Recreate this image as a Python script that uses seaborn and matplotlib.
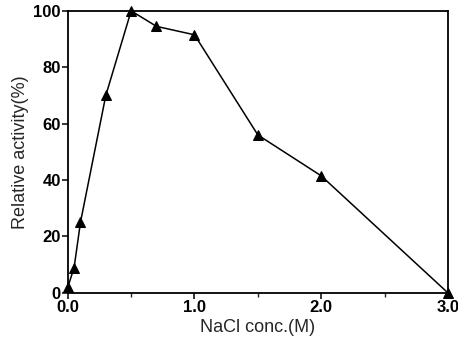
import matplotlib
matplotlib.use("Agg")
import matplotlib.pyplot as plt
import seaborn as sns
import pandas as pd
from matplotlib.ticker import MultipleLocator

nacl = [0.0, 0.05, 0.1, 0.3, 0.5, 0.7, 1.0, 1.5, 2.0, 3.0]
activity = [2, 9, 25, 70, 100, 94.5, 91.5, 56, 41.5, 0]
df = pd.DataFrame({"nacl": nacl, "activity": activity})

sns.set_style("ticks")
plt.rcParams['font.family'] = ['Liberation Sans', 'DejaVu Sans']

fig = plt.figure(figsize=(4.58, 3.39), dpi=100)
ax = fig.add_axes([0.148, 0.136, 0.830, 0.832])
sns.lineplot(data=df, x="nacl", y="activity", ax=ax, color="black", lw=1.1,
             marker="^", markersize=7, markeredgecolor="black", markerfacecolor="black",
             clip_on=False, zorder=5)
ax.set_xlim(0, 3.0)
ax.set_ylim(0, 100)
ax.set_xticks([0.0, 1.0, 2.0, 3.0])
ax.set_xticklabels(["0.0", "1.0", "2.0", "3.0"])
ax.xaxis.set_minor_locator(MultipleLocator(0.5))
ax.set_yticks([0, 20, 40, 60, 80, 100])
for s in ax.spines.values():
    s.set_visible(True)
    s.set_color("black")
    s.set_linewidth(1.3)
ax.tick_params(axis="both", which="major", direction="out", length=4, width=1.1,
               labelsize=12, colors="black", pad=1)
ax.tick_params(axis="x", which="minor", direction="out", length=3, width=1.0)
for lab in ax.get_xticklabels() + ax.get_yticklabels():
    lab.set_fontweight("bold")
ax.set_xlabel("NaCl conc.(M)", fontsize=13, labelpad=3)
ax.set_ylabel("Relative activity(%)", fontsize=13, labelpad=3)
fig.savefig("out.png", dpi=100)
